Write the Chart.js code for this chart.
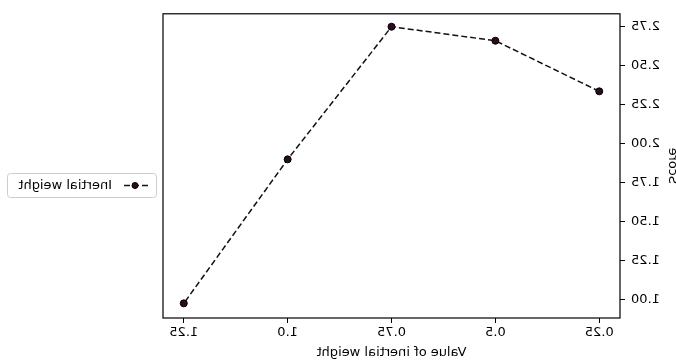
<!DOCTYPE html>
<html>
<head>
<meta charset="utf-8">
<script src="https://cdn.jsdelivr.net/npm/chart.js@4/dist/chart.umd.min.js"></script>
<style>
  html, body { margin: 0; padding: 0; background: #fff; }
  #wrap { width: 676px; height: 360px; transform: scaleX(-1); }
</style>
</head>
<body>
<div id="wrap"><canvas id="c" width="676" height="360"></canvas></div>
<script>
const inertiaValues = [0.25, 0.5, 0.75, 1.0, 1.25];
const xTickLabels = ["0.25", "0.5", "0.75", "1.0", "1.25"];
const scores = [2.335, 2.66, 2.75, 1.898, 0.973];
const yTicks = [1.00, 1.25, 1.50, 1.75, 2.00, 2.25, 2.50, 2.75];
const seriesName = "Inertial weight";
const xTitle = "Value of inertial weight";
const yTitle = "Score";

const FONT = "DejaVu Sans";
const FS = 13;
const lineColor = "#111111";
const markerColor = "#2e0a22";

const frame = {
  id: "frame",
  afterDraw(chart) {
    const { ctx, chartArea: a } = chart;
    ctx.save();
    ctx.strokeStyle = "#000";
    ctx.lineWidth = 1.2;
    ctx.strokeRect(a.left, a.top, a.right - a.left, a.bottom - a.top);
    // y title
    ctx.save();
    ctx.translate(4, (a.top + a.bottom) / 2);
    ctx.rotate(-Math.PI / 2);
    ctx.fillStyle = "#000";
    ctx.font = FS + "px " + FONT;
    ctx.textAlign = "center";
    ctx.textBaseline = "middle";
    ctx.fillText(yTitle, 0, 0);
    ctx.restore();
    // legend
    const lx = 519, ly = 173, lw = 149, lh = 24;
    ctx.strokeStyle = "#cccccc";
    ctx.lineWidth = 1;
    ctx.beginPath();
    if (ctx.roundRect) ctx.roundRect(lx + 0.5, ly + 0.5, lw, lh, 3); else ctx.rect(lx + 0.5, ly + 0.5, lw, lh);
    ctx.fillStyle = "#fff";
    ctx.fill();
    ctx.stroke();
    const cy = ly + lh / 2 + 0.5;
    ctx.strokeStyle = lineColor;
    ctx.lineWidth = 1.5;
    ctx.setLineDash([6, 3]);
    ctx.beginPath();
    ctx.moveTo(528, cy);
    ctx.lineTo(554, cy);
    ctx.stroke();
    ctx.setLineDash([]);
    ctx.fillStyle = markerColor;
    ctx.strokeStyle = "#000";
    ctx.lineWidth = 1;
    ctx.beginPath();
    ctx.arc(541, cy, 3, 0, Math.PI * 2);
    ctx.fill();
    ctx.stroke();
    ctx.fillStyle = "#000";
    ctx.font = FS + "px " + FONT;
    ctx.textBaseline = "middle";
    ctx.textAlign = "left";
    ctx.fillText(seriesName, 564, cy);
    ctx.restore();
  }
};

new Chart(document.getElementById("c"), {
  type: "line",
  data: {
    datasets: [{
      label: seriesName,
      data: inertiaValues.map((x, i) => ({ x: x, y: scores[i] })),
      borderColor: lineColor,
      borderWidth: 1.5,
      borderDash: [6, 3],
      pointRadius: 3.5,
      pointBackgroundColor: markerColor,
      pointBorderColor: "#000",
      pointBorderWidth: 1,
      tension: 0,
      fill: false
    }]
  },
  options: {
    responsive: false,
    animation: false,
    events: [],
    layout: { padding: { left: 0, top: 12, right: 163, bottom: 0 } },
    plugins: { legend: { display: false }, tooltip: { enabled: false } },
    scales: {
      x: {
        type: "linear",
        min: 0.2,
        max: 1.3,
        afterBuildTicks(s) { s.ticks = inertiaValues.map(v => ({ value: v })); },
        afterFit(s) { s.height = 42; },
        ticks: {
          color: "#000",
          font: { family: FONT, size: FS },
          padding: 2,
          maxRotation: 0,
          callback: (v) => { const i = inertiaValues.indexOf(v); return i >= 0 ? xTickLabels[i] : ""; }
        },
        grid: { drawOnChartArea: false, drawTicks: true, tickLength: 5, color: "#000" },
        border: { display: false },
        title: { display: true, text: xTitle, color: "#000", font: { family: FONT, size: FS }, padding: { top: 0, bottom: 0 } }
      },
      y: {
        type: "linear",
        min: 0.879,
        max: 2.833,
        afterBuildTicks(s) { s.ticks = yTicks.map(v => ({ value: v })); },
        afterFit(s) { s.width = 56; },
        ticks: {
          color: "#000",
          font: { family: FONT, size: FS },
          padding: 6,
          callback: (v) => v.toFixed(2)
        },
        grid: { drawOnChartArea: false, drawTicks: true, tickLength: 5, color: "#000" },
        border: { display: false },
        title: { display: false }
      }
    }
  },
  plugins: [frame]
});
</script>
</body>
</html>
